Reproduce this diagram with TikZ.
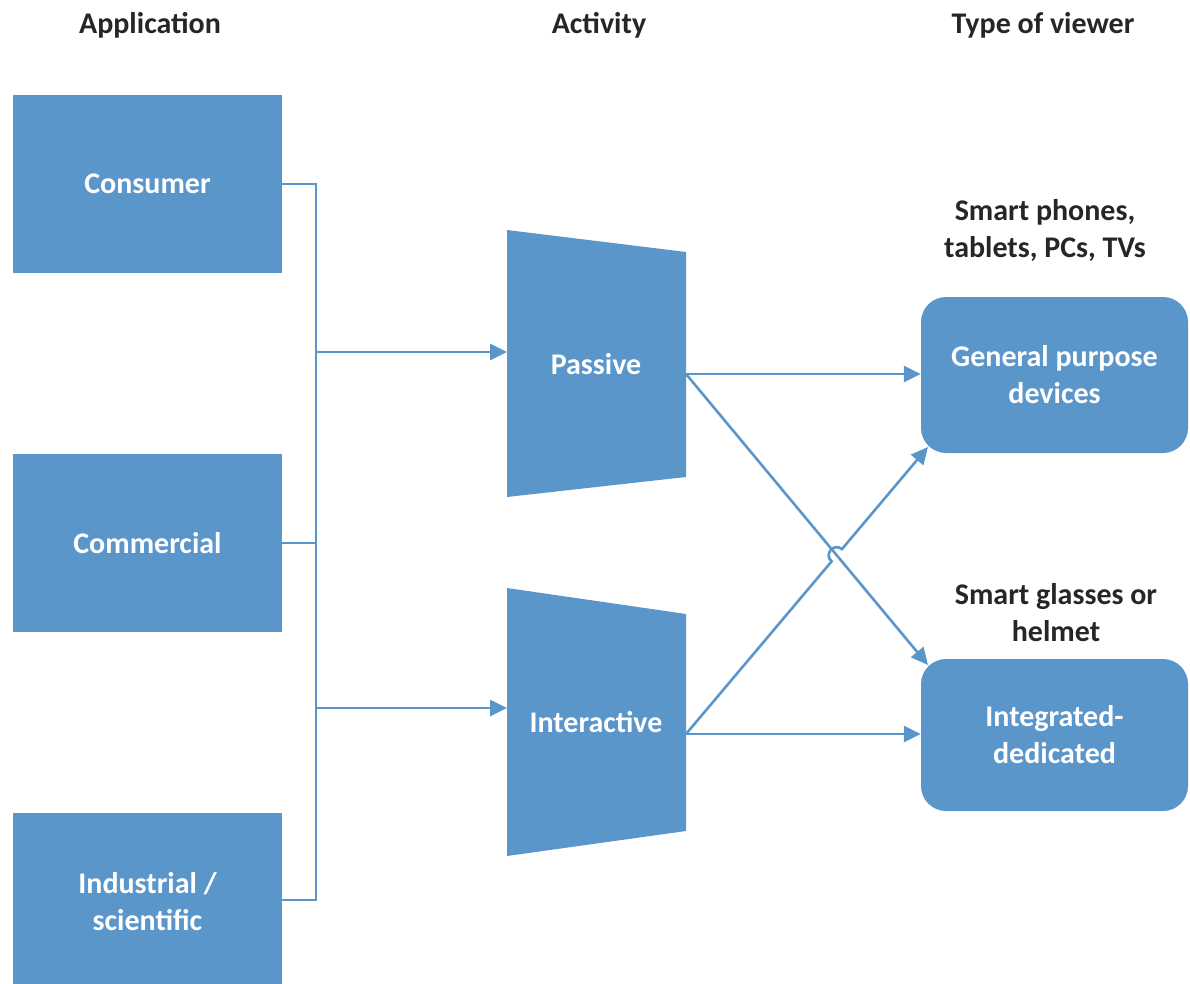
\documentclass[tikz,border=0pt]{standalone}
\usepackage{fontspec}
\setmainfont{Carlito}
\usetikzlibrary{arrows.meta,calc}
\definecolor{boxblue}{RGB}{91,150,203}
\definecolor{headgray}{RGB}{38,38,38}
\begin{document}
\begin{tikzpicture}[x=1pt,y=-1pt,
  font=\fontsize{30}{37}\selectfont\bfseries,
  appbox/.style={fill=boxblue, draw=none, minimum width=269pt, minimum height=178pt,
                 text=white, align=center, inner sep=0pt},
  viewbox/.style={fill=boxblue, draw=none, rounded corners=25pt, minimum width=267pt,
                  text=white, align=center, inner sep=0pt},
  header/.style={text=headgray, inner sep=0pt},
  note/.style={text=headgray, align=center, inner sep=0pt},
  actlabel/.style={text=white, inner sep=0pt},
  link/.style={draw=boxblue, line width=2.6pt},
  arr/.style={link, -{Triangle[length=17pt,width=16pt]}},
]
\useasboundingbox (0,0) rectangle (1190,984);
\clip (0,0) rectangle (1190,984);

% column headings
\node[header] (hApp) at (150,25) {Application};
\node[header] (hAct) at (599,25) {Activity};
\node[header] (hView) at (1043,25) {Type of viewer};

% application boxes
\node[appbox] (cons) at (147.5,184) {Consumer};
\node[appbox] (comm) at (147.5,543) {Commercial};
\node[appbox] (ind)  at (147.5,902) {Industrial /\\scientific};

% activity trapezoids
\fill[boxblue] (507,230) -- (686,252) -- (686,477) -- (507,497) -- cycle;
\node[actlabel] (pas) at (596,364) {Passive};
\fill[boxblue] (507,588) -- (686,614) -- (686,831) -- (507,856) -- cycle;
\node[actlabel] (int) at (596,722) {Interactive};
\coordinate (pasIn)  at (507,352);
\coordinate (pasOut) at (686,374);
\coordinate (intIn)  at (507,708);
\coordinate (intOut) at (686,734);

% viewer boxes
\node[viewbox, minimum height=156pt] (gen) at (1054.5,375) {General purpose\\devices};
\node[viewbox, minimum height=152pt] (integ) at (1054.5,735) {Integrated-\\dedicated};
\node[note] (nGen) at (1045,231) {Smart phones,\\tablets, PCs, TVs};
\node[note] (nInt) at (1056,613) {Smart glasses or\\helmet};
\coordinate (genTip)   at (928,447);
\coordinate (integTip) at (928,665);

% collecting bus on the left
\coordinate (busTop) at (316,184);
\coordinate (busBot) at (316,900);
\coordinate (tapP) at (316,352);
\coordinate (tapI) at (316,708);
\draw[link] (cons.east) -- (busTop) -- (busBot) -- (ind.east |- busBot);
\draw[link] (comm.east) -- (comm.east -| busTop);
\draw[arr] (tapP) -- (pasIn);
\draw[arr] (tapI) -- (intIn);

% activity to viewer
\draw[arr] (pasOut) -- (pasOut -| gen.west);
\draw[arr] (intOut) -- (intOut -| integ.west);
\draw[arr] (pasOut) -- (integTip);
\coordinate (cross) at (intersection of pasOut--integTip and intOut--genTip);
\coordinate (hopA) at ($(cross)!8pt!(intOut)$);
\coordinate (hopB) at ($(cross)!8pt!(genTip)$);
\draw[arr] (intOut) -- (hopA) to[out=140,in=140,looseness=1.7] (hopB) -- (genTip);
\end{tikzpicture}
\end{document}
